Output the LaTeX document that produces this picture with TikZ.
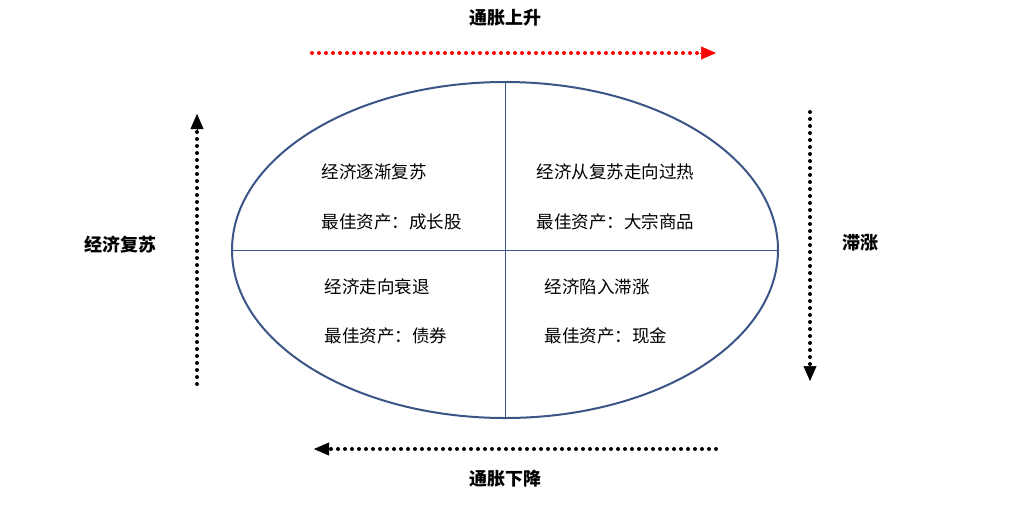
\documentclass[tikz,border=0pt]{standalone}
\usepackage{fontspec}
\setmainfont{Noto Sans CJK SC}
\usetikzlibrary{arrows.meta,shapes.geometric}
\begin{document}
\begin{tikzpicture}[x=1pt,y=-1pt,
  dotline/.style={line width=4pt,line cap=round,dash pattern=on 0pt off 7pt},
  tip/.style={-{Triangle[length=15pt,width=13pt]},line width=0.5pt},
  lab/.style={font=\fontsize{18}{20}\selectfont\bfseries},
  qt/.style={font=\fontsize{17.5}{20}\selectfont,anchor=west}]
\useasboundingbox (0,0) rectangle (1009,512);
\definecolor{ell}{RGB}{60,85,135}
\node[draw=ell,line width=2pt,ellipse,minimum width=546pt,minimum height=336pt,inner sep=0pt] (E) at (505,250) {};
\coordinate (vt) at (505,82); \coordinate (vb) at (505,418);
\coordinate (hl) at (232,250); \coordinate (hr) at (778,250);
\draw[ell,line width=1pt] (vt) -- (vb);
\draw[ell,line width=1pt] (hl) -- (hr);
\node[qt] (q1a) at (318,172) {经济逐渐复苏};
\node[qt] (q1b) at (318,222) {最佳资产：成长股};
\node[qt] (q2a) at (533,172) {经济从复苏走向过热};
\node[qt] (q2b) at (533,222) {最佳资产：大宗商品};
\node[qt] (q3a) at (321,287) {经济走向衰退};
\node[qt] (q3b) at (321,336) {最佳资产：债券};
\node[qt] (q4a) at (541,287) {经济陷入滞涨};
\node[qt] (q4b) at (541,336) {最佳资产：现金};
% top
\coordinate (t1) at (312,53); \coordinate (t2) at (700,53); \coordinate (t3) at (716,53);
\draw[dotline,red] (t1) -- (t2);
\draw[tip,red] (t2) -- (t3);
\node[lab] (lt) at (505,18) {通胀上升};
% bottom
\coordinate (b1) at (716,449); \coordinate (b2) at (330,449); \coordinate (b3) at (314,449);
\draw[dotline] (b1) -- (b2);
\draw[tip] (b2) -- (b3);
\node[lab] (lb) at (505,479) {通胀下降};
% left
\coordinate (l1) at (197,384); \coordinate (l2) at (197,130); \coordinate (l3) at (197,114);
\draw[dotline] (l1) -- (l2);
\draw[tip] (l2) -- (l3);
\node[lab] (ll) at (120,245) {经济复苏};
% right
\coordinate (r1) at (810,112); \coordinate (r2) at (810,365); \coordinate (r3) at (810,381);
\draw[dotline] (r1) -- (r2);
\draw[tip] (r2) -- (r3);
\node[lab] (lr) at (860,243) {滞涨};
\end{tikzpicture}
\end{document}
